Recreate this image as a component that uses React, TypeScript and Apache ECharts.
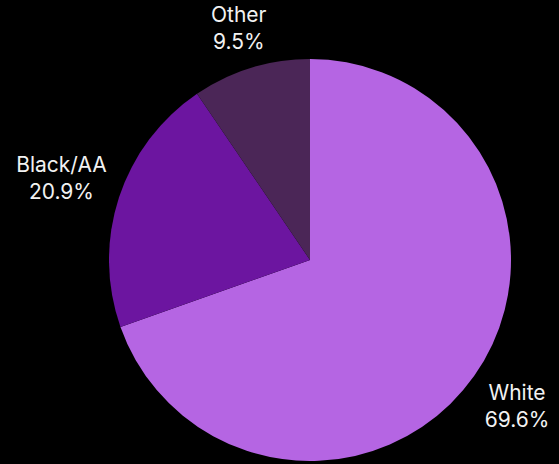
import React, { useEffect, useRef } from "react";
import * as echarts from "echarts";

const categories = ["White", "Black/AA", "Other"];
const values = [69.6, 20.9, 9.5];
const colors = ["#b565e3", "#6c15a0", "#4b2657"];

export default function App() {
  const ref = useRef<HTMLDivElement>(null);
  useEffect(() => {
    if (!ref.current) return;
    const chart = echarts.init(ref.current, null, { renderer: "svg" });
    const cx = 310;
    const cy = 260;
    const R = 201;
    const gap = 13;
    const total = values.reduce((a, b) => a + b, 0);
    const mids: number[] = [];
    let acc = 0;
    values.forEach((v) => {
      mids.push(((acc + v / 2) / total) * Math.PI * 2);
      acc += v;
    });
    chart.setOption({
      animation: false,
      backgroundColor: "#000000",
      series: [
        {
          type: "pie",
          center: [cx, cy],
          radius: [0, R],
          startAngle: 90,
          clockwise: true,
          avoidLabelOverlap: false,
          data: categories.map((name, i) => ({
            name,
            value: values[i],
            itemStyle: { color: colors[i] },
          })),
          label: {
            show: true,
            position: "outside",
            formatter: (p: any) => `${p.name}\n${p.value.toFixed(1)}%`,
            color: "#f2f2f2",
            fontFamily: "Inter",
            fontSize: 21,
            lineHeight: 27,
            align: "center",
            overflow: "none",
          },
          labelLine: { show: false },
          labelLayout: (params: any) => {
            const a = mids[params.dataIndex];
            const dx = Math.sin(a);
            const dy = -Math.cos(a);
            const w = Math.max(params.labelRect.width, 60);
            const hw = w / 2;
            const hh = params.labelRect.height / 2;
            const ext = Math.min(
              Math.abs(dx) > 1e-6 ? hw / Math.abs(dx) : Infinity,
              Math.abs(dy) > 1e-6 ? hh / Math.abs(dy) : Infinity
            );
            const d = R + gap + ext;
            return {
              x: cx + dx * d,
              y: cy + dy * d,
              align: "center",
              verticalAlign: "middle",
            };
          },
        },
      ],
    });
    return () => chart.dispose();
  }, []);
  return (
    <div
      ref={ref}
      style={{ position: "fixed", left: 0, top: 0, width: 559, height: 464 }}
    />
  );
}
